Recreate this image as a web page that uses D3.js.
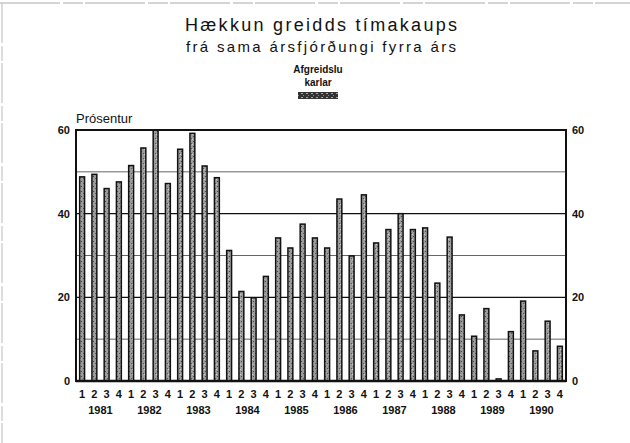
<!DOCTYPE html>
<html>
<head>
<meta charset="utf-8">
<script src="https://cdn.jsdelivr.net/npm/d3@7"></script>
<style>
  body { margin: 0; background: #fff; }
  svg { display: block; font-family: "Liberation Sans", Arial, sans-serif; }
</style>
</head>
<body>
<svg id="chart" width="630" height="443"></svg>
<script>
// hækkun greidds tímakaups, afgreiðslukarlar, % frá sama ársfjórðungi fyrra árs
var years = ["1981", "1982", "1983", "1984", "1985", "1986", "1987", "1988", "1989", "1990"];
var quarters = ["1", "2", "3", "4"];
var karlar = [
    48.8, 49.4, 46.0, 47.6,
    51.5, 55.7, 60.0, 47.2,
    55.4, 59.2, 51.4, 48.6,
    31.2, 21.4, 19.9, 25.0,
    34.2, 31.8, 37.5, 34.2,
    31.8, 43.5, 29.9, 44.5,
    33.0, 36.2, 40.0, 36.2,
    36.6, 23.4, 34.4, 15.8,
    10.7, 17.3, 0.5, 11.8,
    19.1, 7.2, 14.3, 8.3
];
var yTicks = [0, 20, 40, 60];
var gridMinor = [10, 30, 50];
var gridMajor = [20, 40];

var svg = d3.select("#chart");

// plot box (note: "top" is reserved on window, so plotTop etc.)
var plotLeft = 76, plotRight = 566, plotTop = 130, plotBottom = 381;

var cats = [];
years.forEach(function (yr) {
    quarters.forEach(function (q) {
        cats.push(yr + "-" + q);
    });
});

var x = d3.scaleBand()
    .domain(cats)
    .range([plotLeft, plotRight])
    .paddingInner(0.6)
    .paddingOuter(0.3);

var y = d3.scaleLinear()
    .domain([0, 60])
    .range([plotBottom, plotTop]);

// texture for the bars
var defs = svg.append("defs");
var pat = defs.append("pattern")
    .attr("id", "hatch")
    .attr("patternUnits", "userSpaceOnUse")
    .attr("width", 4)
    .attr("height", 5);
pat.append("rect").attr("width", 4).attr("height", 5).attr("fill", "#9c9c9c");
pat.append("rect").attr("x", 1).attr("y", 1).attr("width", 1).attr("height", 1).attr("fill", "#444");
pat.append("rect").attr("x", 3).attr("y", 3).attr("width", 1).attr("height", 1).attr("fill", "#555");
pat.append("rect").attr("x", 0).attr("y", 4).attr("width", 1).attr("height", 1).attr("fill", "#d0d0d0");

var pat2 = defs.append("pattern")
    .attr("id", "hatch-dark")
    .attr("patternUnits", "userSpaceOnUse")
    .attr("width", 5)
    .attr("height", 4);
pat2.append("rect").attr("width", 5).attr("height", 4).attr("fill", "#333");
pat2.append("rect").attr("x", 1).attr("y", 1).attr("width", 2).attr("height", 1).attr("fill", "#aaa");
pat2.append("rect").attr("x", 3).attr("y", 3).attr("width", 1).attr("height", 1).attr("fill", "#888");

// faint page border
svg.append("line")
    .attr("x1", 0).attr("x2", 630).attr("y1", 3).attr("y2", 3)
    .attr("stroke", "#aaa").attr("stroke-width", 1)
    .attr("stroke-dasharray", "60 3 20 2");
svg.append("line")
    .attr("x1", 2).attr("x2", 2).attr("y1", 3).attr("y2", 443)
    .attr("stroke", "#bbb").attr("stroke-width", 1)
    .attr("stroke-dasharray", "40 3 15 2");

// titles
var cx = (plotLeft + plotRight) / 2;
svg.append("text")
    .attr("x", cx).attr("y", 31)
    .attr("text-anchor", "middle")
    .attr("font-size", 18)
    .attr("textLength", 272)
    .attr("lengthAdjust", "spacing")
    .attr("fill", "#111")
    .text("Hækkun greidds tímakaups");

svg.append("text")
    .attr("x", cx).attr("y", 52)
    .attr("text-anchor", "middle")
    .attr("font-size", 15)
    .attr("textLength", 270)
    .attr("lengthAdjust", "spacing")
    .attr("fill", "#111")
    .text("frá sama ársfjórðungi fyrra árs");

// legend
svg.append("text")
    .attr("x", cx - 3).attr("y", 73)
    .attr("text-anchor", "middle")
    .attr("font-size", 10)
    .attr("font-weight", "bold")
    .attr("fill", "#111")
    .text("Afgreidslu");
svg.append("text")
    .attr("x", cx - 3).attr("y", 86)
    .attr("text-anchor", "middle")
    .attr("font-size", 10)
    .attr("font-weight", "bold")
    .attr("fill", "#111")
    .text("karlar");
svg.append("rect")
    .attr("x", cx - 23).attr("y", 92)
    .attr("width", 40).attr("height", 7)
    .attr("fill", "url(#hatch-dark)");

svg.append("text")
    .attr("x", plotLeft).attr("y", 123)
    .attr("font-size", 13)
    .attr("fill", "#111")
    .text("Prósentur");

// grid
svg.append("g")
    .selectAll("line")
    .data(gridMinor)
    .enter().append("line")
    .attr("x1", plotLeft).attr("x2", plotRight)
    .attr("y1", function (d) { return y(d); })
    .attr("y2", function (d) { return y(d); })
    .attr("stroke", "#666")
    .attr("stroke-width", 1);

svg.append("g")
    .selectAll("line")
    .data(gridMajor)
    .enter().append("line")
    .attr("x1", plotLeft).attr("x2", plotRight)
    .attr("y1", function (d) { return y(d); })
    .attr("y2", function (d) { return y(d); })
    .attr("stroke", "#111")
    .attr("stroke-width", 1.4);

// bars
svg.append("g")
    .selectAll("rect")
    .data(karlar)
    .enter().append("rect")
    .attr("x", function (d, i) { return x(cats[i]); })
    .attr("y", function (d) { return y(d); })
    .attr("width", x.bandwidth())
    .attr("height", function (d) { return y(0) - y(d); })
    .attr("fill", "url(#hatch)")
    .attr("stroke", "#111")
    .attr("stroke-width", 1.5);

// frame
svg.append("rect")
    .attr("x", plotLeft).attr("y", plotTop)
    .attr("width", plotRight - plotLeft).attr("height", plotBottom - plotTop)
    .attr("fill", "none")
    .attr("stroke", "#111")
    .attr("stroke-width", 2);
svg.append("line")
    .attr("x1", plotLeft).attr("x2", plotRight)
    .attr("y1", plotBottom).attr("y2", plotBottom)
    .attr("stroke", "#111")
    .attr("stroke-width", 2.6);

// axes
var leftAxis = svg.append("g")
    .attr("transform", "translate(" + plotLeft + ",0)")
    .call(d3.axisLeft(y).tickValues(yTicks).tickSize(0).tickPadding(6));
var rightAxis = svg.append("g")
    .attr("transform", "translate(" + plotRight + ",0)")
    .call(d3.axisRight(y).tickValues(yTicks).tickSize(0).tickPadding(6));

var xAxis = svg.append("g")
    .attr("transform", "translate(0," + plotBottom + ")")
    .call(d3.axisBottom(x).tickSize(0).tickPadding(9)
        .tickFormat(function (d) { return d.split("-")[1]; }));

[leftAxis, rightAxis, xAxis].forEach(function (g) {
    g.select(".domain").remove();
    g.selectAll("text")
        .attr("font-family", "Liberation Sans, Arial, sans-serif")
        .attr("font-size", 11)
        .attr("font-weight", "bold")
        .attr("fill", "#111");
});

// year labels under quarters 2-3
svg.append("g")
    .selectAll("text")
    .data(years)
    .enter().append("text")
    .attr("x", function (d) {
        return (x(d + "-2") + x(d + "-3")) / 2 + x.bandwidth() / 2;
    })
    .attr("y", 414)
    .attr("text-anchor", "middle")
    .attr("font-size", 11)
    .attr("font-weight", "bold")
    .attr("fill", "#111")
    .text(function (d) { return d; });
</script>
</body>
</html>
